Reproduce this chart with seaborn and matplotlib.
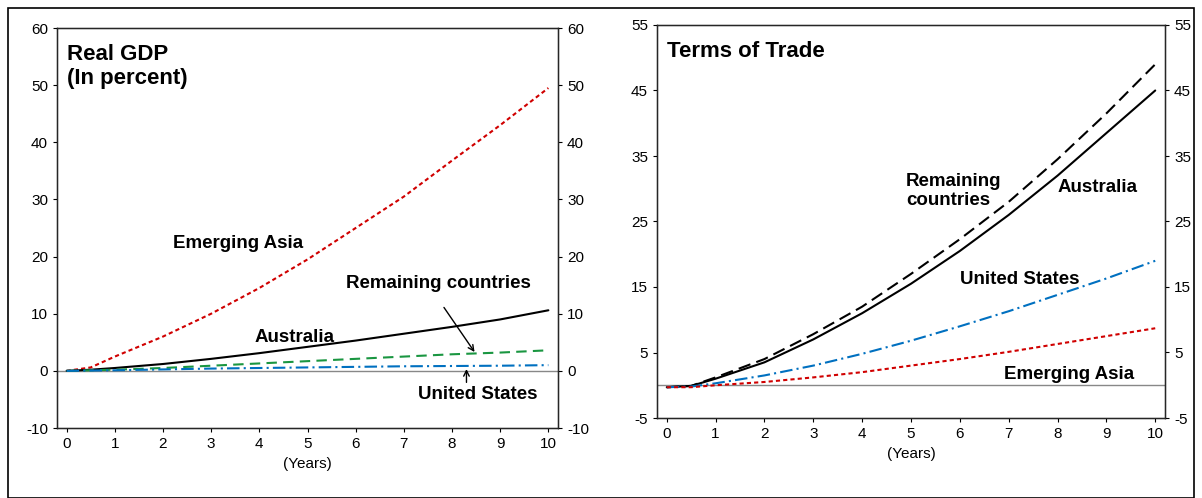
import numpy as np
import pandas as pd
import seaborn as sns
import matplotlib.pyplot as plt
from matplotlib.patches import Rectangle

years = [0, 0.5, 1, 2, 3, 4, 5, 6, 7, 8, 9, 10]
gdp_emerging_asia = [0, 0.6, 2.5, 6.0, 10.0, 14.5, 19.5, 25.0, 30.5, 36.8, 43.0, 49.5]
gdp_australia = [0, 0.2, 0.5, 1.2, 2.1, 3.1, 4.2, 5.3, 6.5, 7.7, 9.0, 10.6]
gdp_remaining = [0, 0.1, 0.2, 0.5, 0.9, 1.3, 1.7, 2.1, 2.5, 2.9, 3.2, 3.6]
gdp_us = [0, 0.05, 0.1, 0.25, 0.4, 0.5, 0.6, 0.7, 0.8, 0.85, 0.9, 1.0]

tot_australia = [-0.3, -0.1, 1.0, 3.5, 7.0, 11.0, 15.5, 20.5, 26.0, 32.0, 38.5, 45.0]
tot_remaining = [-0.3, -0.1, 1.2, 4.0, 7.8, 12.0, 17.0, 22.3, 28.0, 34.5, 41.5, 49.0]
tot_us = [-0.3, -0.2, 0.3, 1.5, 3.0, 4.8, 6.8, 9.0, 11.3, 13.8, 16.3, 19.0]
tot_emerging_asia = [-0.3, -0.3, 0.0, 0.5, 1.2, 2.0, 3.0, 4.0, 5.1, 6.3, 7.5, 8.7]

sns.set_style("white")
plt.rcParams['font.family'] = ['Liberation Sans', 'DejaVu Sans']
plt.rcParams['axes.unicode_minus'] = False
plt.rcParams['text.color'] = 'black'
plt.rcParams['xtick.color'] = 'black'
plt.rcParams['ytick.color'] = 'black'
plt.rcParams['axes.labelcolor'] = 'black'

fig = plt.figure(figsize=(12.02, 4.98), dpi=100)
W, H = 1202, 498
def ax_at(x0, y0, x1, y1):
    return fig.add_axes([x0 / W, 1 - y1 / H, (x1 - x0) / W, (y1 - y0) / H])

fig.patches.append(Rectangle((8 / W, 0), 1 - 16 / W, 1 - 8 / H, transform=fig.transFigure,
                             fill=False, edgecolor='black', lw=1.2))

RED, BLUE, GREEN = '#d00000', '#0070c0', '#1a9641'

def panel(ax, series, ylim, yticks, title):
    ax.axhline(0, color='#888888', lw=1)
    for vals, color, ls in series:
        df = pd.DataFrame({'x': years, 'y': vals})
        sns.lineplot(data=df, x='x', y='y', ax=ax, color=color, lw=1.5, linestyle=ls)
    ax.set_xlim(-0.2, 10.2)
    ax.set_ylim(*ylim)
    ax.set_xticks(range(11))
    ax.set_yticks(yticks)
    ax.set_xlabel('(Years)', fontsize=11, labelpad=4)
    ax.set_ylabel('')
    ax.tick_params(labelsize=11, direction='out', length=3, left=True, bottom=True)
    for s in ax.spines.values():
        s.set_color('black'); s.set_linewidth(1)
    ax2 = ax.twinx()
    ax2.set_ylim(*ylim)
    ax2.set_yticks(yticks)
    ax2.tick_params(labelsize=11, direction='out', length=3, right=True)
    ax.text(0.02, 0.96, title, transform=ax.transAxes, fontsize=16, fontweight='bold', va='top')
    return ax

ax1 = ax_at(57, 28, 558, 428)
panel(ax1, [(gdp_emerging_asia, RED, (0, (2, 1.5))), (gdp_australia, 'black', '-'),
            (gdp_remaining, GREEN, (0, (5, 3))), (gdp_us, BLUE, (0, (6, 2, 1, 2)))],
      (-10, 60), range(-10, 61, 10), 'Real GDP\n(In percent)')
kw = dict(fontsize=13.5, fontweight='bold')
ax1.text(2.2, 21.5, 'Emerging Asia', **kw)
ax1.text(3.9, 5.0, 'Australia', **kw)
ax1.text(5.8, 14.5, 'Remaining countries', **kw)
ax1.text(7.3, -5.0, 'United States', **kw)
ax1.annotate('', xy=(8.5, 2.9), xytext=(7.8, 11.5), arrowprops=dict(arrowstyle='->', color='black', lw=1))
ax1.annotate('', xy=(8.3, 0.8), xytext=(8.3, -2.5), arrowprops=dict(arrowstyle='->', color='black', lw=1))

ax2 = ax_at(657, 25, 1165, 418)
panel(ax2, [(tot_remaining, 'black', (0, (6, 3))), (tot_australia, 'black', '-'),
            (tot_us, BLUE, (0, (6, 2, 1, 2))), (tot_emerging_asia, RED, (0, (2, 1.5)))],
      (-5, 55), range(-5, 56, 10), 'Terms of Trade')
ax2.text(4.9, 27.5, 'Remaining\ncountries', **kw)
ax2.text(8.0, 29.5, 'Australia', **kw)
ax2.text(6.0, 15.5, 'United States', **kw)
ax2.text(6.9, 1.0, 'Emerging Asia', **kw)

fig.savefig('out.png', dpi=100)
